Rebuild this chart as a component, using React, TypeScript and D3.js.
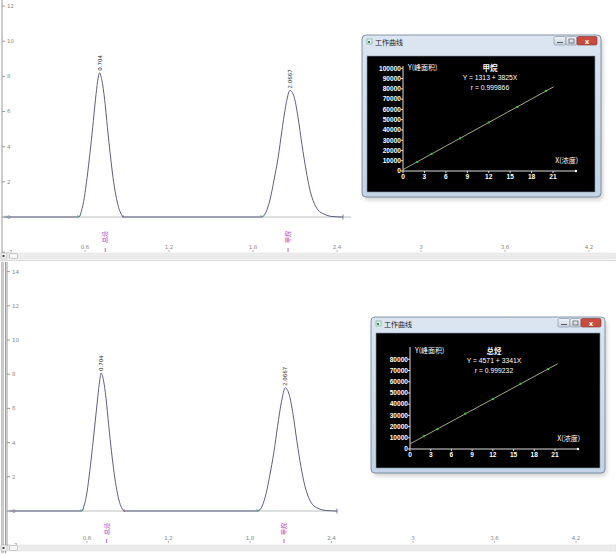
import * as d3 from 'd3';

// chromatogram axes
const timeTicks = [0.6, 1.2, 1.8, 2.4, 3, 3.6, 4.2];
const topSignalTicks = [-2, 0, 2, 4, 6, 8, 10, 12];
const bottomSignalTicks = [-2, 0, 2, 4, 6, 8, 10, 12, 14];

// peaks: [time (min), signal]
const topPeakA: [number, number][] = [
  [0.557, 0], [0.575, 0.35], [0.595, 1.1], [0.615, 2.25], [0.635, 3.6], [0.655, 5.1],
  [0.675, 6.7], [0.69, 7.7], [0.704, 8.2], [0.72, 7.8], [0.74, 6.7], [0.76, 5.1],
  [0.78, 3.6], [0.8, 2.25], [0.82, 1.25], [0.84, 0.55], [0.86, 0.15], [0.872, 0],
];
const topPeakB: [number, number][] = [
  [1.864, 0], [1.893, 0.28], [1.921, 0.97], [1.95, 2.1], [1.979, 3.35], [2.007, 4.94],
  [2.036, 6.42], [2.064, 7.2], [2.093, 6.85], [2.121, 5.7], [2.15, 4.1], [2.179, 2.67],
  [2.207, 1.53], [2.236, 0.8], [2.264, 0.4], [2.307, 0.17], [2.364, 0.03], [2.443, 0],
];
const bottomPeakA: [number, number][] = [
  [0.563, 0], [0.58, 0.35], [0.6, 1.1], [0.62, 2.3], [0.64, 3.7], [0.66, 5.2],
  [0.68, 6.7], [0.693, 7.6], [0.704, 8.07], [0.72, 7.7], [0.74, 6.6], [0.76, 5.0],
  [0.78, 3.5], [0.8, 2.2], [0.82, 1.2], [0.84, 0.5], [0.86, 0.12], [0.873, 0],
];
const bottomPeakB: [number, number][] = [
  [1.859, 0], [1.89, 0.3], [1.918, 1.0], [1.946, 2.1], [1.975, 3.4], [2.003, 4.95],
  [2.032, 6.4], [2.06, 7.2], [2.089, 6.8], [2.117, 5.65], [2.146, 4.05], [2.175, 2.6],
  [2.203, 1.5], [2.232, 0.78], [2.26, 0.38], [2.3, 0.16], [2.36, 0.03], [2.44, 0],
];
const peakLabels = ['0.704', '2.0667'];
const compoundNames = ['总烃', '甲烷'];
const compoundTimes = [0.745, 2.05];

// calibration curves
const concTicks = [0, 3, 6, 9, 12, 15, 18, 21];
const concLevels = [2, 4, 8, 12, 16, 20];
const methaneAreas = [8800, 16700, 31800, 47300, 62300, 77900];
const totalAreas = [11400, 17900, 31500, 44500, 58200, 71200];
const methaneAreaTicks = [0, 10000, 20000, 30000, 40000, 50000, 60000, 70000, 80000, 90000, 100000];
const totalAreaTicks = [0, 10000, 20000, 30000, 40000, 50000, 60000, 70000, 80000];

const SMALL = '"DejaVu Sans", sans-serif';
const CJK = '"Noto Sans CJK SC", sans-serif';

type Pt = [number, number];

interface ChromProps {
  xRange: [number, number];
  yBase: number;
  yPerUnit: number;
  yTicks: number[];
  axisX: number;
  peaks: Pt[][];
  start: number;
  greyEnd: number;
  tickY: number;
  nameY: number;
  scrollY: number;
  top: number;
  doubleBorder?: boolean;
}

const Chromatogram = ({ xRange, yBase, yPerUnit, yTicks, axisX, peaks, start, greyEnd, tickY, nameY, scrollY, top, doubleBorder }: ChromProps) => {
  const x = d3.scaleLinear().domain([0.6, 4.2]).range(xRange);
  const y = d3.scaleLinear().domain([0, 1]).range([yBase, yBase - yPerUnit]);
  const line = d3.line<Pt>().x((d) => x(d[0])).y((d) => y(d[1])).curve(d3.curveMonotoneX);
  const last = peaks[peaks.length - 1];
  const signal: Pt[] = [[start, 0], ...peaks.flat()];
  const endT = last[last.length - 1][0];
  return (
    <g>
      {doubleBorder && (
        <g>
          <rect x={1} y={top} width={3} height={scrollY - top + 8} fill="#c8c8c8" />
          <line x1={5.5} x2={5.5} y1={top} y2={scrollY + 8} stroke="#9a9a9a" />
        </g>
      )}
      <line x1={axisX} x2={axisX} y1={top} y2={scrollY} stroke="#9a9a9a" />
      {yTicks.map((t) => (
        <g key={t}>
          <line x1={axisX} x2={axisX + 3} y1={y(t)} y2={y(t)} stroke="#999" />
          <text x={axisX + 5} y={y(t)} dy="0.35em" fontSize={5.5} fill="#888" fontFamily={SMALL}>{t}</text>
        </g>
      ))}
      <line x1={x(start) - 4} x2={x(greyEnd)} y1={yBase} y2={yBase} stroke="#a9b0b0" strokeWidth={0.8} />
      <path d={line(signal) || ''} fill="none" stroke="#5e5e80" strokeWidth={1} />
      <circle cx={x(start)} cy={yBase} r={1} fill="none" stroke="#8aa" strokeWidth={0.6} />
      {peaks.map((p, i) => {
        const apex = p.reduce((a, b) => (b[1] > a[1] ? b : a));
        return (
          <g key={i}>
            <path d={`M${x(p[0][0]) - 1.5},${yBase - 2}L${x(p[0][0])},${yBase}L${x(p[0][0]) + 1.5},${yBase - 2}`} fill="none" stroke="#3aa070" strokeWidth={0.7} />
            <text transform={`translate(${x(apex[0]) + 2},${y(apex[1]) - 2}) rotate(-90)`} fontSize={5.5} fill="#333" fontFamily={SMALL}>{peakLabels[i]}</text>
          </g>
        );
      })}
      <line x1={x(peaks[0][peaks[0].length - 1][0])} x2={x(peaks[0][peaks[0].length - 1][0])} y1={yBase - 2} y2={yBase + 1} stroke="#9a4050" strokeWidth={0.7} />
      <line x1={x(endT)} x2={x(endT)} y1={yBase - 2.5} y2={yBase + 2.5} stroke="#55557a" strokeWidth={0.7} />
      {compoundNames.map((n, i) => (
        <g key={n}>
          <text transform={`translate(${x(compoundTimes[i]) + 2},${nameY}) rotate(-90)`} textAnchor="middle" fontSize={6} fill="#b23ab2" fontFamily={CJK}>{n}</text>
          <line x1={x(compoundTimes[i])} x2={x(compoundTimes[i])} y1={tickY - 1} y2={tickY + 3} stroke="#b23ab2" strokeWidth={0.8} />
        </g>
      ))}
      {timeTicks.map((t) => (
        <g key={t}>
          <text x={x(t)} y={tickY} textAnchor="middle" fontSize={5.5} fill="#888" fontFamily={SMALL}>{t}</text>
          <line x1={x(t)} x2={x(t)} y1={tickY + 1} y2={tickY + 3} stroke="#888" strokeWidth={0.6} />
        </g>
      ))}
      <rect x={8} y={scrollY} width={608} height={6} fill="#ececec" stroke="#dedede" strokeWidth={0.5} />
      <rect x={9.5} y={scrollY + 0.5} width={8} height={5} rx={1} fill="#f6f6f6" stroke="#a8a8a8" strokeWidth={0.6} />
      <rect x={1} y={scrollY} width={6} height={6} fill="#f4f4f4" stroke="#999" strokeWidth={0.5} />
      <rect x={2.5} y={scrollY + 2} width={2} height={2} fill="#444" />
    </g>
  );
};

interface InsetProps {
  frame: { x: number; y: number; w: number; h: number };
  body: { x: number; y: number; w: number; h: number };
  xRange: [number, number];
  yRange: [number, number];
  yMax: number;
  yTicks: number[];
  yAxisTop: number;
  xAxisEnd: number;
  areas: number[];
  intercept: number;
  slope: number;
  fitEnd: number;
  name: string;
  eq: string;
  r: string;
  textX: number;
  titleY: number;
}

const Inset = ({ frame, body, xRange, yRange, yMax, yTicks, yAxisTop, xAxisEnd, areas, intercept, slope, fitEnd, name, eq, r, textX, titleY }: InsetProps) => {
  const x = d3.scaleLinear().domain([0, 21]).range(xRange);
  const y = d3.scaleLinear().domain([0, yMax]).range(yRange);
  const x0 = xRange[0];
  const y0 = yRange[0];
  const bx = frame.x + frame.w;
  return (
    <g>
      <rect x={frame.x + 2} y={frame.y + 3} width={frame.w} height={frame.h} rx={4} fill="#000" opacity={0.18} filter="url(#blur)" />
      <rect x={frame.x} y={frame.y} width={frame.w} height={frame.h} rx={4} fill="url(#aero)" stroke="#6b7d94" strokeWidth={0.8} />
      <rect x={frame.x + 5} y={frame.y + 4} width={5} height={5} fill="#eef" stroke="#5a7" strokeWidth={0.6} />
      <rect x={frame.x + 6} y={frame.y + 6} width={2} height={2} fill="#3a8a3a" />
      <text x={frame.x + 13} y={frame.y + 9.5} fontSize={7} fill="#1a1a1a" fontFamily={CJK}>工作曲线</text>
      <rect x={bx - 47} y={frame.y + 1.5} width={12} height={8.5} rx={1.5} fill="url(#btn)" stroke="#7a8aa0" strokeWidth={0.6} />
      <line x1={bx - 44} x2={bx - 38} y1={frame.y + 7.5} y2={frame.y + 7.5} stroke="#555" />
      <rect x={bx - 35} y={frame.y + 1.5} width={11} height={8.5} rx={1.5} fill="url(#btn)" stroke="#7a8aa0" strokeWidth={0.6} />
      <rect x={bx - 32} y={frame.y + 4} width={5} height={4} fill="none" stroke="#555" strokeWidth={0.7} />
      <rect x={bx - 24} y={frame.y + 1.5} width={20} height={8.5} rx={1.5} fill="#c94a3e" stroke="#7a3030" strokeWidth={0.6} />
      <text x={bx - 14} y={frame.y + 8.6} textAnchor="middle" fontSize={7} fontWeight="bold" fill="#fff" fontFamily={SMALL}>x</text>
      <rect x={body.x} y={body.y} width={body.w} height={body.h} fill="#000" stroke="#8a9ab0" strokeWidth={0.6} />
      <line x1={x0} x2={x0} y1={y0} y2={yAxisTop} stroke="#ddd" strokeWidth={1} />
      <line x1={x0} x2={xAxisEnd} y1={y0} y2={y0} stroke="#ddd" strokeWidth={1} />
      <circle cx={xAxisEnd} cy={y0} r={1.2} fill="#fff" />
      {yTicks.map((t) => (
        <g key={t}>
          <line x1={x0 - 2} x2={x0} y1={y(t)} y2={y(t)} stroke="#ddd" />
          <text x={x0 - 2} y={y(t)} dy="0.35em" textAnchor="end" fontSize={6.6} fontWeight="bold" fill="#fff" fontFamily='"Liberation Sans", sans-serif'>{t}</text>
        </g>
      ))}
      {concTicks.map((t) => (
        <g key={t}>
          <line x1={x(t)} x2={x(t)} y1={y0} y2={y0 + 2} stroke="#ddd" />
          <text x={x(t)} y={y0 + 8} textAnchor="middle" fontSize={6.6} fontWeight="bold" fill="#fff" fontFamily='"Liberation Sans", sans-serif'>{t}</text>
        </g>
      ))}
      <line x1={x(0)} y1={y(intercept)} x2={x(fitEnd)} y2={y(intercept + slope * fitEnd)} stroke="#b4bc96" strokeWidth={0.9} />
      {concLevels.map((c, i) => (
        <rect key={c} x={x(c) - 1} y={y(areas[i]) - 1} width={2} height={2} fill="#33cc33" />
      ))}
      <text x={x0 + 5} y={titleY} dy="0.35em" fontSize={7} fill="#fff" fontFamily={CJK}>Y(峰面积)</text>
      <text x={textX} y={titleY} dy="0.35em" textAnchor="middle" fontSize={7.5} fontWeight="bold" fill="#fff" fontFamily={CJK}>{name}</text>
      <text x={textX} y={titleY + 10} dy="0.35em" textAnchor="middle" fontSize={6.8} fill="#fff" fontFamily='"Liberation Sans", sans-serif'>{eq}</text>
      <text x={textX} y={titleY + 20} dy="0.35em" textAnchor="middle" fontSize={6.8} fill="#fff" fontFamily='"Liberation Sans", sans-serif'>{r}</text>
      <text x={xAxisEnd + 2} y={y0 - 8} textAnchor="end" fontSize={7} fill="#fff" fontFamily={CJK}>X(浓度)</text>
    </g>
  );
};

export default function App() {
  return (
    <div style={{ position: 'absolute', left: 0, top: 0 }}>
      <svg width={616} height={554} style={{ display: 'block', background: '#fff' }}>
        <defs>
          <linearGradient id="aero" x1="0" y1="0" x2="0" y2="1">
            <stop offset="0" stopColor="#dce6f2" />
            <stop offset="1" stopColor="#c4d3e5" />
          </linearGradient>
          <linearGradient id="btn" x1="0" y1="0" x2="0" y2="1">
            <stop offset="0" stopColor="#f2f5f9" />
            <stop offset="1" stopColor="#c8d2de" />
          </linearGradient>
          <filter id="blur"><feGaussianBlur stdDeviation="2" /></filter>
        </defs>
        <Chromatogram
          xRange={[85, 589]}
          yBase={217}
          yPerUnit={17.58}
          yTicks={topSignalTicks}
          axisX={2}
          peaks={[topPeakA, topPeakB]}
          start={0.03}
          greyEnd={2.5}
          tickY={249}
          nameY={237}
          scrollY={253}
          top={0}
        />
        <line x1={0} x2={616} y1={260.5} y2={260.5} stroke="#d8d8d8" />
        <Chromatogram
          xRange={[87, 576]}
          yBase={511}
          yPerUnit={17.1}
          yTicks={bottomSignalTicks}
          axisX={7}
          peaks={[bottomPeakA, bottomPeakB]}
          start={0.033}
          greyEnd={2.45}
          tickY={540}
          nameY={529}
          scrollY={545}
          top={262}
          doubleBorder
        />
        <Inset
          frame={{ x: 362, y: 35, w: 239, h: 162 }}
          body={{ x: 367, y: 56, w: 228, h: 136 }}
          xRange={[403, 553]}
          yRange={[171, 68.3]}
          yMax={100000}
          yTicks={methaneAreaTicks}
          yAxisTop={66}
          xAxisEnd={576}
          areas={methaneAreas}
          intercept={1313}
          slope={3825}
          fitEnd={21.1}
          name="甲烷"
          eq="Y = 1313 + 3825X"
          r="r = 0.999866"
          textX={490}
          titleY={68}
        />
        <Inset
          frame={{ x: 371, y: 317, w: 234, h: 156 }}
          body={{ x: 376, y: 333, w: 224, h: 135 }}
          xRange={[410, 555]}
          yRange={[449, 359.3]}
          yMax={80000}
          yTicks={totalAreaTicks}
          yAxisTop={347}
          xAxisEnd={578}
          areas={totalAreas}
          intercept={4571}
          slope={3341}
          fitEnd={21.4}
          name="总烃"
          eq="Y = 4571 + 3341X"
          r="r = 0.999232"
          textX={494}
          titleY={351}
        />
      </svg>
    </div>
  );
}
